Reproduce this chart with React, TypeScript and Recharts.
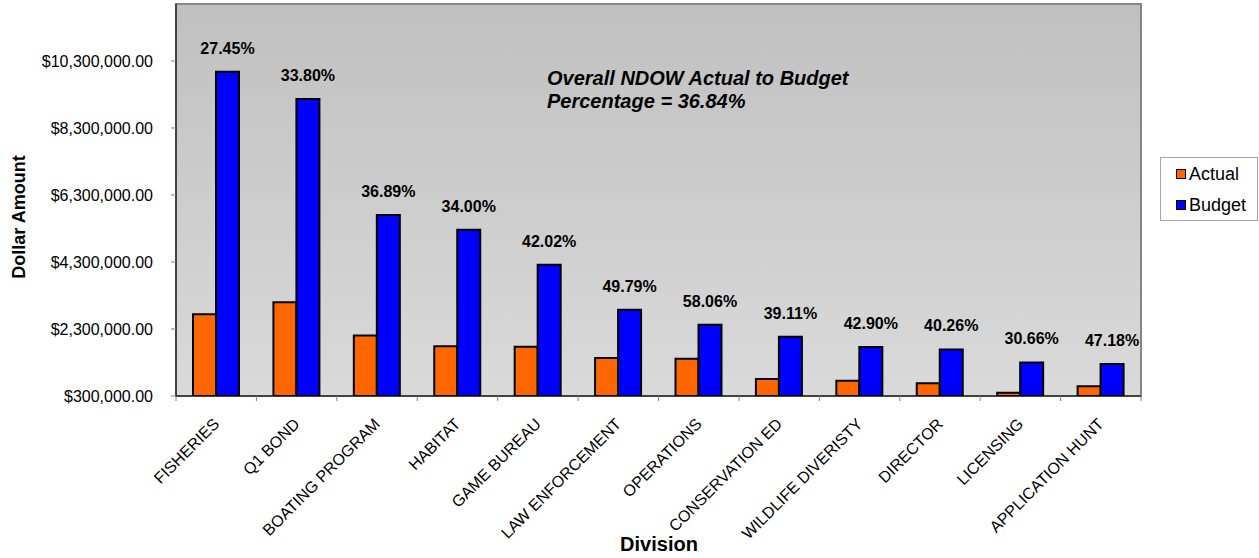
import React from 'react';
import { BarChart, Bar, XAxis, YAxis, ReferenceArea, LabelList, Legend } from 'recharts';

const divisions = [
  'FISHERIES', 'Q1 BOND', 'BOATING PROGRAM', 'HABITAT', 'GAME BUREAU', 'LAW ENFORCEMENT',
  'OPERATIONS', 'CONSERVATION ED', 'WILDLIFE DIVERISTY', 'DIRECTOR', 'LICENSING', 'APPLICATION HUNT',
];
const actualValues = [2740000, 3098000, 2104000, 1788000, 1773000, 1432000, 1410000, 810000, 756000, 681000, 400000, 592000];
const budgetValues = [9980000, 9166000, 5703000, 5260000, 4219000, 2876000, 2428000, 2070000, 1763000, 1691000, 1303000, 1255000];
const pctLabels = ['27.45%', '33.80%', '36.89%', '34.00%', '42.02%', '49.79%', '58.06%', '39.11%', '42.90%', '40.26%', '30.66%', '47.18%'];
const yTicks = [300000, 2300000, 4300000, 6300000, 8300000, 10300000];
const yDomain = [300000, 12000000];
const overallText = ['Overall NDOW Actual to Budget', 'Percentage = 36.84%'];

const data = divisions.map((d, i) => ({
  division: d,
  Actual: actualValues[i],
  Budget: budgetValues[i],
  pct: pctLabels[i],
}));

const FONT = '"Liberation Sans", Arial, sans-serif';

const fmtMoney = (v: number) =>
  '$' + v.toLocaleString('en-US', { minimumFractionDigits: 2, maximumFractionDigits: 2 });

const CatTick = (props: any) => {
  const { x, y, payload, index } = props;
  const half = payload && payload.offset ? payload.offset : 0;
  const tx = x + 4;
  const ty = y + 29;
  const last = index === divisions.length - 1;
  return (
    <g>
      <line x1={x - half} x2={x - half} y1={y} y2={y + 5} stroke="#808080" strokeWidth={1} />
      {last && <line x1={x + half} x2={x + half} y1={y} y2={y + 5} stroke="#808080" strokeWidth={1} />}
      <text
        x={tx}
        y={ty}
        transform={`rotate(-45 ${tx} ${ty})`}
        textAnchor="end"
        fontSize={16}
        fontFamily={FONT}
        fill="#000"
      >
        {payload.value}
      </text>
    </g>
  );
};

const renderLegend = (props: any) => {
  const payload = (props.payload || []) as any[];
  return (
    <div
      style={{
        width: 98,
        height: 64,
        border: '1px solid #a6a6a6',
        background: '#fff',
        boxSizing: 'border-box',
        position: 'relative',
        fontFamily: FONT,
        fontSize: 18,
        color: '#000',
      }}
    >
      {payload.map((p: any, i: number) => (
        <div
          key={p.value}
          style={{
            position: 'absolute',
            left: 15,
            top: 5 + i * 31,
            height: 22,
            lineHeight: '22px',
            display: 'flex',
            alignItems: 'center',
            whiteSpace: 'nowrap',
          }}
        >
          <span
            style={{
              display: 'inline-block',
              width: 10,
              height: 10,
              background: p.color,
              border: '1.5px solid #000',
              boxSizing: 'border-box',
              marginRight: 3,
            }}
          />
          <span>{p.value}</span>
        </div>
      ))}
    </div>
  );
};

export default function App() {
  return (
    <div style={{ position: 'absolute', left: 0, top: 0, width: 1259, height: 558, background: '#fff', fontFamily: FONT }}>
      <BarChart
        width={1259}
        height={558}
        data={data}
        margin={{ top: 4, right: 118, left: 0, bottom: 0 }}
        barCategoryGap={17}
        barGap={0}
      >
        <defs>
          <linearGradient id="plotBg" x1="0" y1="0" x2="0" y2="1">
            <stop offset="0%" stopColor="#c0c0c0" />
            <stop offset="100%" stopColor="#dadada" />
          </linearGradient>
        </defs>
        <XAxis
          dataKey="division"
          type="category"
          interval={0}
          height={162}
          axisLine={{ stroke: '#000', strokeWidth: 1 }}
          tickLine={false}
          tickSize={0}
          tickMargin={0}
          tick={<CatTick />}
        />
        <YAxis
          domain={yDomain}
          ticks={yTicks}
          allowDataOverflow
          width={176}
          tickSize={5}
          tickMargin={18}
          tickFormatter={fmtMoney}
          tick={{ fontSize: 16, fill: '#000', fontFamily: FONT }}
          axisLine={{ stroke: '#000', strokeWidth: 1 }}
          tickLine={{ stroke: '#808080', strokeWidth: 1 }}
        />
        <ReferenceArea
          y1={yDomain[0]}
          y2={yDomain[1]}
          fill="url(#plotBg)"
          fillOpacity={1}
          stroke="#858585"
          strokeWidth={2}
          ifOverflow="visible"
        />
        <Legend
          layout="vertical"
          align="center"
          verticalAlign="middle"
          content={renderLegend}
          wrapperStyle={{ left: 1160, top: 157, width: 98, height: 64 }}
        />
        <Bar dataKey="Actual" fill="#ff6600" stroke="#000" strokeWidth={2} isAnimationActive={false} />
        <Bar dataKey="Budget" fill="#0000ff" stroke="#000" strokeWidth={2} isAnimationActive={false}>
          <LabelList
            dataKey="pct"
            position="top"
            offset={18}
            fill="#000"
            fontSize={16}
            fontWeight="bold"
            fontFamily={FONT}
          />
        </Bar>
      </BarChart>
      <svg width={1259} height={558} style={{ position: 'absolute', left: 0, top: 0, pointerEvents: 'none' }}>
        <text
          x={25}
          y={217}
          transform="rotate(-90 25 217)"
          textAnchor="middle"
          fontSize={18}
          fontWeight="bold"
          fontFamily={FONT}
          fill="#000"
        >
          Dollar Amount
        </text>
        <text x={659} y={551} textAnchor="middle" fontSize={20} fontWeight="bold" fontFamily={FONT} fill="#000">
          Division
        </text>
        {overallText.map((t, i) => (
          <text
            key={t}
            x={547}
            y={85 + i * 23}
            fontSize={20}
            fontWeight="bold"
            fontStyle="italic"
            fontFamily={FONT}
            fill="#000"
          >
            {t}
          </text>
        ))}
      </svg>
    </div>
  );
}
